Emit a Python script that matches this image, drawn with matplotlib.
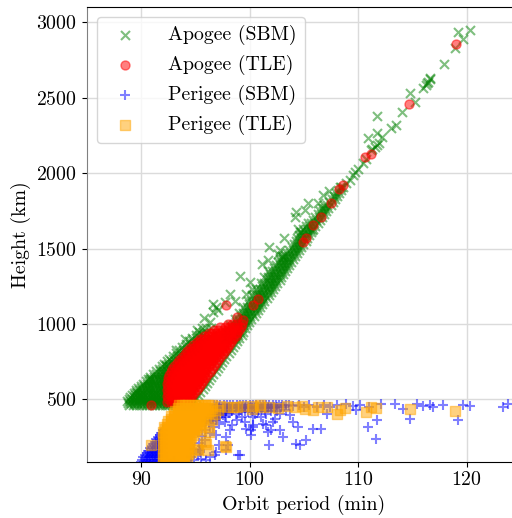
import matplotlib
matplotlib.use("Agg")
import matplotlib.pyplot as plt

plt.rcParams.update({
    "font.family": "serif",
    "font.serif": ["cmr10"],
    "mathtext.fontset": "cm",
    "axes.formatter.use_mathtext": True,
    "font.size": 14.3,
})

# ---------------------------------------------------------------------------
# Apogee heights from the SBM fit; rows map height (km) -> periods (min)
apogee_sbm_rows = {
    465: [88.9, 89.2, 89.5, 89.8, 90.1, 90.4, 90.7, 91.0, 91.3, 91.6, 91.9, 92.2,
          92.5, 92.8, 93.1, 93.4, 93.7, 94.0, 94.3, 94.55],
    477: [88.75, 89.05, 89.35, 89.65, 89.95, 90.25, 90.55, 90.85, 91.15, 91.45,
          91.75, 92.05, 92.35, 92.65, 92.95, 93.25, 93.55, 93.85, 94.15, 94.45, 94.7],
    490: [88.7, 89.0, 89.3, 89.6, 89.9, 90.2, 90.5, 90.8, 91.1, 91.4, 91.7, 92.0,
          92.3, 92.6, 92.9, 93.2, 93.5, 93.8, 94.1, 94.4, 94.65],
    502: [88.85, 89.15, 89.45, 89.75, 90.05, 90.35, 90.65, 90.95, 91.25, 91.55,
          91.85, 92.15, 92.45],
    515: [89.0, 89.3, 89.6, 89.9, 90.2, 90.5, 90.8, 91.1, 91.4, 91.7, 92.0, 92.3],
    530: [89.15, 89.45, 89.75, 90.05, 90.35, 90.65, 90.95, 91.25, 91.55, 91.85, 92.15],
    545: [89.3, 89.6, 89.9, 90.2, 90.5, 90.8, 91.1, 91.4, 91.7, 92.0, 92.3],
    560: [89.5, 89.8, 90.1, 90.4, 90.7, 91.0, 91.3, 91.6, 91.9, 92.2],
    575: [89.7, 90.0, 90.3, 90.6, 90.9, 91.2, 91.5, 91.8, 92.1],
    590: [89.95, 90.25, 90.55, 90.85, 91.15, 91.45, 91.75, 92.05, 92.35],
    605: [90.2, 90.5, 90.8, 91.1, 91.4, 91.7, 92.0, 92.3],
    620: [90.4, 90.7, 91.0, 91.3, 91.6, 91.9, 92.2],
    635: [90.6, 90.9, 91.2, 91.5, 91.8, 92.1, 92.4],
    650: [90.85, 91.15, 91.45, 91.75, 92.05, 92.35],
    665: [91.1, 91.4, 91.7, 92.0, 92.3, 92.6],
    685: [91.35, 91.7, 92.05, 92.4, 92.75],
    700: [91.6, 91.95, 92.3, 92.65],
    720: [91.9, 92.25, 92.6, 92.95],
    735: [92.1, 92.45, 92.8, 93.15],
    755: [92.4, 92.75, 93.1, 93.45],
    770: [92.6, 92.95, 93.3, 93.65],
    790: [92.9, 93.25, 93.6, 93.95],
    810: [93.2, 93.55, 93.9, 94.2],
    830: [93.5, 93.85, 94.2, 94.55],
    850: [93.8, 94.15, 94.5, 94.85],
    870: [94.1, 94.45, 94.8, 95.15],
    890: [94.4, 94.75, 95.1],
    910: [94.7, 95.05, 95.4],
    930: [95.0, 95.35, 95.7],
    950: [95.3, 95.65, 96.0],
    970: [95.6, 96.0, 96.4],
}
# near-circular orbits: a narrow band rising with period
apogee_sbm_band = {
    490: [94.85], 510: [95.05], 530: [95.25], 550: [95.45], 570: [95.65],
    590: [95.85], 610: [96.05], 630: [96.25], 650: [96.45], 670: [96.65],
    690: [96.85], 710: [97.05], 730: [97.25], 750: [97.45], 770: [97.65],
    790: [97.85], 810: [98.05], 830: [98.25], 850: [98.45], 870: [98.65],
    890: [98.85],
    910: [99.05, 98.75, 98.45, 98.15, 97.85],
    930: [99.25, 98.95, 98.65, 98.35, 98.05],
    950: [99.4, 99.1, 98.8, 98.5, 98.2, 97.85],
    970: [99.55, 99.25, 98.95, 98.65, 98.35],
    990: [99.75, 99.45, 99.15, 98.85, 98.55, 98.2],
    1010: [99.95, 99.65, 99.35, 99.05, 98.75],
    1030: [100.15, 99.85, 99.55, 99.25, 98.95, 98.6],
    1050: [100.35, 100.05, 99.75, 99.45, 99.15],
    1070: [100.55, 100.25, 99.95, 99.65, 99.35, 99.0],
    1090: [100.75, 100.45, 100.15, 99.85, 99.55],
    1110: [100.95, 100.65, 100.35, 100.05, 99.75, 99.4],
    1130: [101.15, 100.85, 100.55, 100.25, 99.95],
    1150: [101.35, 101.05, 100.75, 100.45, 100.15, 99.8],
    1170: [101.55, 101.25, 100.95, 100.65, 100.35],
    1190: [101.75, 101.45, 101.15, 100.85, 100.55, 100.2],
    1210: [101.95, 101.65, 101.35, 101.05, 100.75],
    1230: [102.15, 101.85, 101.55, 101.25, 100.95, 100.6],
    1250: [102.35, 102.05, 101.75, 101.45, 101.15],
    1270: [102.55, 102.25, 101.95, 101.65, 101.35, 101.0],
    1290: [102.75, 102.45, 102.15, 101.85, 101.55],
    1310: [102.9, 102.6, 102.3, 102.0, 101.7, 101.35],
    1330: [103.05, 102.75, 102.45, 102.15, 101.85],
    1350: [103.25, 102.95, 102.65, 102.35, 102.05, 101.7],
    1370: [103.45, 103.15, 102.85, 102.55, 102.25],
    1390: [103.65, 103.35, 103.05, 102.75, 102.45],
    1410: [103.8, 103.5, 103.2, 102.9, 102.6],
    1430: [103.95, 103.65, 103.35, 103.05, 102.75],
    1450: [104.15, 103.85, 103.55, 103.25, 102.95],
    1470: [104.35, 104.05, 103.75, 103.45],
    1490: [104.55, 104.25, 103.95, 103.65],
    1510: [104.75, 104.45, 104.15, 103.85],
    1530: [104.95, 104.65, 104.35, 104.05],
    1550: [105.15, 104.85, 104.55, 104.25],
    1570: [105.3, 105.0, 104.7, 104.4],
    1590: [105.45, 105.15, 104.85, 104.55],
    1610: [105.65, 105.35, 105.05, 104.75],
    1630: [105.85, 105.55, 105.25, 104.95],
    1650: [106.05, 105.75, 105.45, 105.15],
    1670: [106.25, 105.95, 105.65, 105.35],
    1690: [106.45, 106.15, 105.85],
    1710: [106.65, 106.35, 106.05],
    1730: [106.85, 106.55, 106.25],
    1750: [107.05, 106.75, 106.45],
    1770: [107.25, 106.95, 106.65],
    1790: [107.45, 107.15, 106.85],
    1810: [107.65, 107.35],
    1830: [107.85, 107.55],
    1850: [108.05, 107.75],
    1870: [108.25, 107.95],
    1890: [108.45, 108.15],
    1910: [108.6, 108.3],
}
apogee_sbm_sparse = [
    (89.5, 548), (90.8, 637), (92.3, 726), (93.2, 830), (94.0, 900), (95.1, 958),
    (96.3, 1013), (95.8, 1040), (96.6, 1079), (97.1, 1091), (96.9, 1113),
    (96.6, 1135), (97.7, 1146), (98.6, 1150), (98.2, 1200), (99.7, 1201),
    (100.2, 1235), (100.0, 1279), (99.1, 1316), (101.1, 1400), (101.7, 1422),
    (103.1, 1444), (102.6, 1467), (102.8, 1489), (101.8, 1511), (103.2, 1567),
    (104.6, 1610), (104.45, 1633), (105.7, 1622), (104.15, 1710), (104.3, 1743),
    (105.1, 1754), (105.4, 1799), (106.3, 1799), (106.75, 1854), (107.3, 1880),
    (108.45, 1909), (108.9, 1932), (109.2, 1955), (109.5, 1985), (109.7, 2009),
    (110.0, 2031), (110.4, 2065), (110.7, 2097), (111.2, 2153), (111.5, 2175),
    (111.9, 2197), (111.3, 2160), (111.7, 2185), (110.9, 2234), (112.2, 2240),
    (111.7, 2267), (111.7, 2378), (113.0, 2300), (113.5, 2319), (114.0, 2403),
    (115.2, 2473), (114.75, 2529), (116.0, 2562), (116.2, 2584), (116.3, 2595),
    (116.6, 2622), (116.6, 2629), (116.4, 2605), (117.9, 2723), (118.9, 2827),
    (119.65, 2887), (119.2, 2936), (120.3, 2950),
]

# Apogee heights from TLE data
apogee_tle_rows = {
    480: [92.35, 92.7, 93.05, 93.4, 93.75, 94.1, 94.3],
    500: [92.5, 92.85, 93.2, 93.55, 93.9, 94.25, 94.5],
    520: [92.35, 92.7, 93.05, 93.4, 93.75, 94.1, 94.45, 94.7],
    540: [92.5, 92.85, 93.2, 93.55, 93.9, 94.25, 94.6, 94.9],
    560: [92.35, 92.7, 93.05, 93.4, 93.75, 94.1, 94.45, 94.8, 95.1],
    580: [92.5, 92.85, 93.2, 93.55, 93.9, 94.25, 94.6, 94.95, 95.3],
    600: [92.35, 92.7, 93.05, 93.4, 93.75, 94.1, 94.45, 94.8, 95.15, 95.5],
    620: [92.5, 92.85, 93.2, 93.55, 93.9, 94.25, 94.6, 94.95, 95.3, 95.7],
    640: [92.45, 92.8, 93.15, 93.5, 93.85, 94.2, 94.55, 94.9, 95.25, 95.6, 95.9],
    660: [92.6, 92.95, 93.3, 93.65, 94.0, 94.35, 94.7, 95.05, 95.4, 95.75, 96.1],
    680: [92.7, 93.05, 93.4, 93.75, 94.1, 94.45, 94.8, 95.15, 95.5, 95.85, 96.3],
    700: [92.85, 93.2, 93.55, 93.9, 94.25, 94.6, 94.95, 95.3, 95.65, 96.0, 96.5],
    720: [93.05, 93.4, 93.75, 94.1, 94.45, 94.8, 95.15, 95.5, 95.85, 96.2, 96.7],
    740: [93.25, 93.6, 93.95, 94.3, 94.65, 95.0, 95.35, 95.7, 96.05, 96.4, 96.9],
    760: [93.5, 93.85, 94.2, 94.55, 94.9, 95.25, 95.6, 95.95, 96.3, 96.65, 97.1],
    780: [93.75, 94.1, 94.45, 94.8, 95.15, 95.5, 95.85, 96.2, 96.55, 96.9, 97.3],
    800: [94.0, 94.35, 94.7, 95.05, 95.4, 95.75, 96.1, 96.45, 96.8, 97.15, 97.5],
    820: [94.25, 94.6, 94.95, 95.3, 95.65, 96.0, 96.35, 96.7, 97.05, 97.4, 97.7],
    840: [94.5, 94.85, 95.2, 95.55, 95.9, 96.25, 96.6, 96.95, 97.3, 97.6, 97.9],
    860: [94.75, 95.1, 95.45, 95.8, 96.15, 96.5, 96.85, 97.2, 97.55, 97.85, 98.1],
    880: [95.1, 95.45, 95.8, 96.15, 96.5, 96.85, 97.2, 97.55, 97.9, 98.3],
    900: [95.45, 95.8, 96.15, 96.5, 96.85, 97.2, 97.55, 97.9, 98.25, 98.5],
    920: [95.8, 96.15, 96.5, 96.85, 97.2, 97.55, 97.9, 98.25, 98.7],
    940: [96.2, 96.55, 96.9, 97.25, 97.6, 97.95, 98.3, 98.6, 98.85],
    960: [96.7, 97.1, 97.5, 97.9, 98.3, 98.65, 99.0],
    980: [97.3, 97.7, 98.1, 98.5, 98.85, 99.15],
    1000: [98.0, 98.4, 98.8, 99.3],
}
apogee_tle_sparse = [
    (90.94, 460), (97.85, 1124), (98.8, 1046), (99.4, 1024), (100.3, 1124),
    (100.8, 1168), (104.9, 1544), (105.2, 1573), (105.8, 1655), (106.6, 1710),
    (107.5, 1799), (108.2, 1898), (108.6, 1920), (110.6, 2108), (111.2, 2126),
    (114.7, 2458), (119.0, 2856),
]

# Perigee heights from the SBM fit
perigee_sbm_rows = {
    85: [89.95, 90.25, 90.55, 90.85, 91.15, 91.45, 91.75, 92.05],
    100: [90.1, 90.4, 90.7, 91.0, 91.3, 91.6, 91.9],
    115: [90.2, 90.5, 90.8, 91.1, 91.4, 91.7, 92.0],
    130: [90.35, 90.65, 90.95, 91.25, 91.55, 91.85],
    145: [90.5, 90.8, 91.1, 91.4, 91.7, 92.0],
    160: [90.65, 90.95, 91.25, 91.55, 91.85],
    175: [90.8, 91.1, 91.4, 91.7, 92.0],
    190: [90.95, 91.25, 91.55, 91.85],
    205: [91.1, 91.4, 91.7, 92.0],
    220: [91.25, 91.55, 91.85],
    235: [91.4, 91.7, 92.0],
    250: [91.55, 91.85],
    265: [91.7, 92.0],
    280: [91.85],
    295: [92.0],
    464: [96.7, 97.0, 97.3, 97.6, 97.9, 98.2, 98.5, 98.8, 99.1, 99.4, 99.7, 100.0,
          100.3, 100.6, 100.9, 101.2, 101.5, 101.8, 102.1, 102.4, 102.7, 103.0,
          103.3, 103.6],
    452: [96.85, 97.15, 97.45, 97.75, 98.05, 98.35, 98.65, 98.95, 99.25, 99.55,
          99.85, 100.15, 100.45, 100.75, 101.05, 101.35, 101.65, 101.95, 102.25,
          102.55, 102.85, 103.15],
    440: [96.9, 97.2, 97.5, 97.8, 98.1, 98.4, 98.7, 99.0, 99.3, 99.6, 99.9, 100.2,
          100.5, 100.8, 101.1, 101.4, 101.7, 102.0, 102.3],
    425: [97.2, 97.8, 98.4, 99.0, 99.6, 100.2, 100.8, 101.4, 102.0],
    410: [96.8, 97.1, 97.45, 97.75, 98.1],
    395: [96.5, 96.85, 97.2, 97.55],
    375: [96.3, 96.65, 97.0],
    355: [96.0, 96.4],
}
perigee_sbm_sparse = [
    (104.0, 455), (104.5, 462), (105.0, 448), (105.5, 460), (106.2, 452),
    (106.8, 465), (107.4, 450), (108.0, 460), (108.9, 471), (109.5, 455),
    (110.2, 462), (111.0, 450), (112.1, 471), (113.4, 467), (114.1, 438),
    (115.4, 467), (116.0, 455), (116.6, 460), (116.9, 452), (117.8, 460),
    (119.65, 460), (120.3, 453), (123.3, 449), (123.8, 467),
    (109.8, 427), (110.9, 316), (111.7, 361), (111.6, 239), (114.75, 372),
    (119.2, 361), (107.1, 405), (106.6, 305), (105.8, 305), (105.2, 228),
    (104.6, 195), (104.3, 206), (104.45, 316), (104.0, 349), (103.7, 394),
    (103.1, 250), (102.8, 294), (102.1, 349), (102.0, 294), (101.8, 195),
    (100.5, 405), (100.3, 316), (100.1, 261), (101.7, 283), (101.5, 405),
    (101.2, 338), (100.3, 327), (99.7, 305), (98.8, 361), (98.2, 294),
    (97.85, 250), (97.2, 338), (97.2, 405), (97.85, 383), (98.0, 195),
    (98.9, 128), (96.9, 150), (96.8, 128), (99.1, 128), (97.85, 161),
    (97.2, 195), (96.9, 261), (100.1, 294), (101.5, 327), (100.3, 383),
    (95.4, 150), (96.3, 117), (95.4, 161),
    (96.7, 420), (97.0, 400), (96.5, 380), (96.9, 360), (96.2, 340), (96.6, 320),
    (95.9, 300), (96.3, 280), (95.6, 260), (95.9, 230), (95.3, 210), (95.6, 190),
    (94.9, 170), (95.2, 140), (94.6, 120), (94.9, 100), (98.3, 420), (98.7, 400),
    (99.2, 430), (99.8, 415), (98.0, 440), (97.5, 420), (97.7, 350), (98.4, 330),
    (99.3, 380), (99.6, 350), (100.8, 430), (101.0, 380), (102.5, 420),
    (102.8, 400), (103.3, 430), (102.3, 370),
    (92.4, 100), (93.0, 92), (95.5, 105), (96.0, 95),
]

# Perigee heights from TLE data
perigee_tle_rows = {
    460: [93.45, 93.75, 94.05, 94.35, 94.65, 94.95, 95.25, 95.55, 95.85, 96.15, 96.55],
    442: [93.4, 93.7, 94.0, 94.3, 94.6, 94.9, 95.2, 95.5, 95.8, 96.1, 96.5],
    425: [93.1, 93.4, 93.7, 94.0, 94.3, 94.6, 94.9, 95.2, 95.5, 95.8, 96.1, 96.35],
    407: [93.05, 93.35, 93.65, 93.95, 94.25, 94.55, 94.85, 95.15, 95.45, 95.75, 96.15],
    390: [92.75, 93.05, 93.35, 93.65, 93.95, 94.25, 94.55, 94.85, 95.15, 95.45, 95.95],
    372: [92.75, 93.05, 93.35, 93.65, 93.95, 94.25, 94.55, 94.85, 95.15, 95.45, 95.7],
    355: [92.45, 92.75, 93.05, 93.35, 93.65, 93.95, 94.25, 94.55, 94.85, 95.15, 95.5],
    337: [92.4, 92.7, 93.0, 93.3, 93.6, 93.9, 94.2, 94.5, 94.8, 95.1, 95.35],
    320: [92.1, 92.4, 92.7, 93.0, 93.3, 93.6, 93.9, 94.2, 94.5, 94.8, 95.2],
    302: [92.15, 92.45, 92.75, 93.05, 93.35, 93.65, 93.95, 94.25, 94.55, 94.85, 95.05],
    285: [92.0, 92.3, 92.6, 92.9, 93.2, 93.5, 93.8, 94.1, 94.4, 94.9],
    267: [92.15, 92.45, 92.75, 93.05, 93.35, 93.65, 93.95, 94.25, 94.75],
    250: [92.0, 92.3, 92.6, 92.9, 93.2, 93.5, 93.8, 94.1, 94.6],
    232: [92.15, 92.45, 92.75, 93.05, 93.35, 93.65, 93.95, 94.25, 94.5],
    215: [92.0, 92.3, 92.6, 92.9, 93.2, 93.5, 93.8, 94.1, 94.4],
    197: [92.15, 92.45, 92.75, 93.05, 93.35, 93.65, 93.95, 94.3],
    180: [92.0, 92.3, 92.6, 92.9, 93.2, 93.5, 93.8, 94.2],
    162: [92.15, 92.45, 92.75, 93.05, 93.35, 93.65, 93.95, 94.1],
    145: [92.0, 92.3, 92.6, 92.9, 93.2, 93.5, 93.8, 94.0],
    127: [92.15, 92.45, 92.75, 93.05, 93.35, 93.65, 93.95],
    110: [92.0, 92.3, 92.6, 92.9, 93.2, 93.5, 93.9],
    92: [92.15, 92.45, 92.75, 93.05, 93.35, 93.65, 93.85],
    75: [92.0, 92.3, 92.6, 92.9, 93.2, 93.5, 93.85],
}
perigee_tle_sparse = [
    (90.94, 199), (96.2, 316), (95.85, 217), (95.2, 165), (97.7, 194),
    (96.15, 161), (94.6, 150), (94.2, 117), (97.85, 183), (95.55, 294),
    (96.2, 283), (96.0, 206), (95.1, 172), (94.3, 139),
    (97.1, 427), (98.5, 449), (98.8, 449), (100.2, 438), (100.3, 453),
    (100.9, 460), (100.9, 449), (97.3, 455), (97.9, 450), (99.4, 455),
    (101.8, 452), (102.6, 445), (103.4, 455), (104.2, 450), (104.8, 455),
    (105.1, 438), (105.8, 427), (106.3, 448), (107.1, 449), (108.0, 405),
    (108.3, 427), (108.8, 440), (110.75, 416), (111.2, 449), (111.6, 440),
    (114.75, 438), (118.95, 422), (96.8, 400), (96.5, 360),
]


def collect(*groups):
    """Flatten row dicts {height: [periods]} and (period, height) lists."""
    t, h = [], []
    for g in groups:
        if isinstance(g, dict):
            for y, xs in g.items():
                t.extend(xs)
                h.extend([y] * len(xs))
        else:
            for x, y in g:
                t.append(x)
                h.append(y)
    return t, h


apo_sbm_t, apo_sbm_h = collect(apogee_sbm_rows, apogee_sbm_band, apogee_sbm_sparse)
apo_tle_t, apo_tle_h = collect(apogee_tle_rows, apogee_tle_sparse)
per_sbm_t, per_sbm_h = collect(perigee_sbm_rows, perigee_sbm_sparse)
per_tle_t, per_tle_h = collect(perigee_tle_rows, perigee_tle_sparse)

fig = plt.figure(figsize=(5.12, 5.18), dpi=100)
ax = fig.add_axes([87 / 512, 56.5 / 518, 434 / 512, 454.2 / 518])

size = 42
ax.scatter(apo_sbm_t, apo_sbm_h, s=size, marker="x", color="green", alpha=0.5,
           label="Apogee (SBM)")
ax.scatter(apo_tle_t, apo_tle_h, s=size, marker="o", color="red", alpha=0.5,
           label="Apogee (TLE)")
ax.scatter(per_sbm_t, per_sbm_h, s=size, marker="+", color="blue", alpha=0.5,
           label="Perigee (SBM)")
ax.scatter(per_tle_t, per_tle_h, s=size, marker="s", color="orange", alpha=0.5,
           label="Perigee (TLE)")

ax.set_xlim(85, 125)
ax.set_ylim(88, 3100)
ax.set_xticks([90, 100, 110, 120])
ax.set_yticks([500, 1000, 1500, 2000, 2500, 3000])
ax.set_axisbelow(True)
ax.grid(True, color="0.86", linewidth=1.0)
ax.spines["left"].set_color("0.5")
ax.tick_params(labelsize=14.3)

ax.set_xlabel("Orbit period (min)", fontsize=14.3)
ax.set_ylabel("Height (km)", fontsize=14.3)

ax.legend(loc="upper left", fontsize=14.3, handletextpad=1.2)

fig.savefig("out.png", dpi=100)
